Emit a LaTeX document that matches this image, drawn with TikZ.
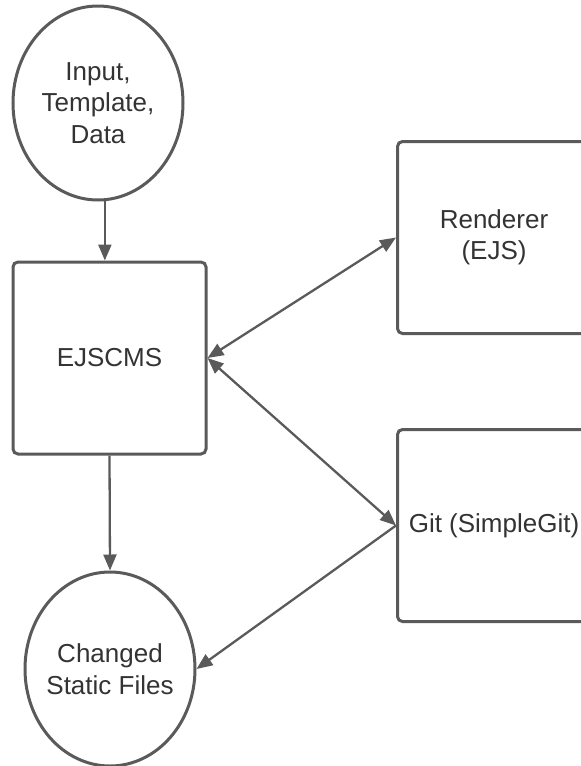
\documentclass[tikz,border=0pt]{standalone}
\usepackage{fontspec}
\setmainfont{Liberation Sans}
\usetikzlibrary{shapes.geometric,arrows.meta}

\definecolor{linegray}{HTML}{5A5A5A}
\definecolor{textgray}{HTML}{333333}

\tikzstyle{proc box}=[draw=linegray,line width=3pt,rounded corners=5pt,
    minimum width=193pt,minimum height=192pt,inner sep=0pt,
    text=textgray,align=center,font=\fontsize{26pt}{31.5pt}\selectfont]
\tikzstyle{data blob}=[draw=linegray,line width=3pt,ellipse,
    minimum width=170pt,minimum height=194pt,inner sep=-15pt,
    text=textgray,align=center,font=\fontsize{26pt}{31.5pt}\selectfont]
\tikzstyle{flow}=[draw=linegray,line width=2.3pt,
    -{Triangle[length=16pt,width=13pt]}]
\tikzstyle{two way}=[flow,
    {Triangle[length=16pt,width=13pt]}-{Triangle[length=16pt,width=13pt]}]
\newcommand{\procbox}[3]{
    \node[proc box] at (#1) (#2) {#3};
}
\newcommand{\datablob}[3]{
    \node[data blob] at (#1) (#2) {#3};
}

\begin{document}
\begin{tikzpicture}[x=1pt,y=-1pt]
    \useasboundingbox (0,0) rectangle (581,766);
    %
    \datablob{98,103}{input}{Input,\\Template,\\Data}
    \procbox{109.5,358}{ejscms}{EJSCMS}
    \datablob{110,669}{changed}{Changed\\Static Files}
    \procbox{494,237.5}{renderer}{Renderer\\(EJS)}
    \procbox{494,525.5}{git}{Git (SimpleGit)}
    %
    \draw[flow] (input.-86) -- (input.-86 |- ejscms.north);
    \draw[flow] (ejscms.south) -- (changed.north);
    \draw[two way] (ejscms.east) -- (renderer.west);
    \draw[two way] (ejscms.east) -- (git.west);
    \draw[flow] (git.west) -- (changed.east);
\end{tikzpicture}
\end{document}
